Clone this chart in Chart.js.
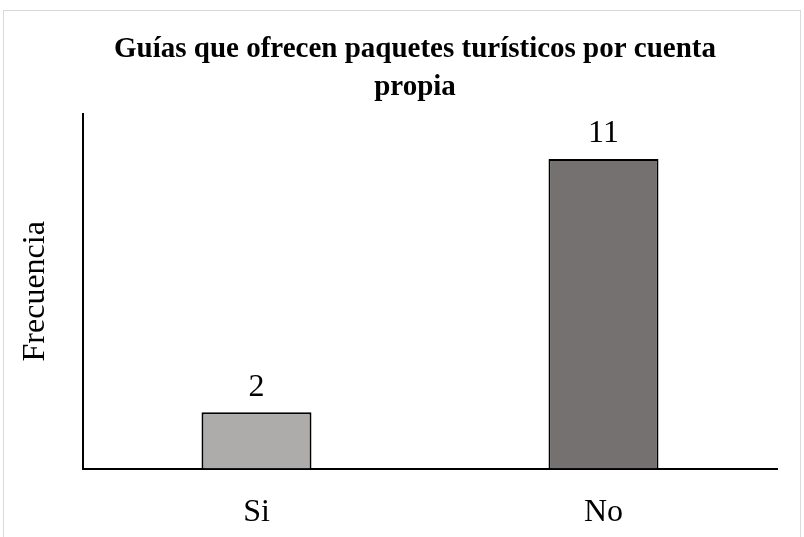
<!DOCTYPE html>
<html>
<head>
<meta charset="utf-8">
<script src="https://cdn.jsdelivr.net/npm/chart.js@4/dist/chart.umd.min.js"></script>
<style>
  html, body { margin: 0; padding: 0; background: #fff; overflow: hidden; }
  #frame {
    position: absolute; left: 3px; top: 10px;
    width: 796px; height: 546px;
    border: 1px solid #d9d9d9; background: #fff;
  }
</style>
</head>
<body>
<div id="frame"><canvas id="chart"></canvas></div>
<script>
const titleLines = ['Guías que ofrecen paquetes turísticos por cuenta', 'propia'];
const categories = ['Si', 'No'];
const frecuencia = [2, 11];
const barColors = ['#AEABAB', '#767171'];
const axisTitle = 'Frecuencia';

const serif = '"Liberation Serif", "Times New Roman", serif';

// value labels above each bar
const valueLabels = {
    id: 'valueLabels',
    afterDatasetsDraw(chart) {
        const ctx = chart.ctx;
        const meta = chart.getDatasetMeta(0);
        ctx.save();
        ctx.font = '32px ' + serif;
        ctx.fillStyle = '#000';
        ctx.textAlign = 'center';
        ctx.textBaseline = 'middle';
        meta.data.forEach((bar, i) => {
            ctx.fillText(String(frecuencia[i]), bar.x, bar.y - 25);
        });
        ctx.restore();
    }
};

new Chart(document.getElementById('chart').getContext('2d'), {
    type: 'bar',
    data: {
        labels: categories,
        datasets: [{
            data: frecuencia,
            backgroundColor: barColors,
            borderColor: '#000',
            borderWidth: 2,
            barPercentage: 0.317,
            categoryPercentage: 1
        }]
    },
    options: {
        responsive: true,
        maintainAspectRatio: false,
        animation: false,
        layout: {
            padding: { left: 49, right: 23, top: 0, bottom: 0 }
        },
        plugins: {
            legend: { display: false },
            tooltip: { enabled: false },
            title: {
                display: true,
                text: titleLines,
                color: '#000',
                font: { family: serif, size: 29, weight: 'bold', lineHeight: 1.31 },
                padding: { top: 20, bottom: 7 }
            }
        },
        scales: {
            x: {
                grid: { display: false, drawTicks: false },
                border: { color: '#000', width: 2 },
                ticks: {
                    color: '#000',
                    padding: 25,
                    font: { family: serif, size: 32 }
                }
            },
            y: {
                min: 0,
                max: 12.6,
                grid: { display: false, drawTicks: false },
                border: { color: '#000', width: 2 },
                ticks: { display: false },
                title: {
                    display: true,
                    text: axisTitle,
                    color: '#000',
                    font: { family: serif, size: 32 },
                    // negative top pulls the axis title left of the padded box
                    padding: { top: -37, bottom: 28.6 }
                }
            }
        }
    },
    plugins: [valueLabels]
});
</script>
</body>
</html>
